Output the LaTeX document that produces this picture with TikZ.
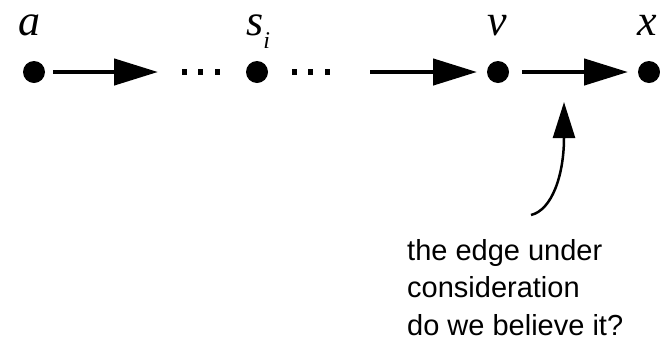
\documentclass[tikz,border=0pt]{standalone}
\usepackage{fontspec}
\setmainfont{Liberation Sans}
\newfontfamily\labelfont{Liberation Serif}
\usetikzlibrary{arrows.meta}

\begin{document}
\begin{tikzpicture}[x=1pt, y=-1pt,
  vertex/.style={circle, fill=black, inner sep=0pt, outer sep=0pt, minimum size=22pt},
  vlabel/.style={anchor=base, inner sep=0pt, font=\fontsize{44}{44}\selectfont\labelfont\itshape},
  edge/.style={line width=4.5pt, -{Triangle[length=44pt, width=26pt]}},
  pointer/.style={line width=2.5pt, -{Triangle[length=36pt, width=22pt]}},
  note/.style={anchor=north west, inner sep=0pt, align=left, font=\fontsize{29}{37.5}\selectfont}
]
  \useasboundingbox (0,0) rectangle (660,341);
  % vertices of the path
  \node[vertex] (a) at (34,72) {};
  \node[vertex] (si) at (257,72) {};
  \node[vertex] (v) at (498,72) {};
  \node[vertex] (x) at (649,72) {};
  \node[vlabel] (la) at (29,35) {a};
  \node[vlabel, anchor=base west] (lsi) at (246,35) {s\raisebox{-13pt}{\fontsize{24}{24}\selectfont i}};
  \node[vlabel] (lv) at (497,35) {v};
  \node[vlabel] (lx) at (647,35) {x};
  % elided parts of the path
  \foreach \px in {184.5, 200.5, 217.5, 294.5, 310.5, 327.5}
    \fill (\px-2.75,69.25) rectangle ++(5.5,5.5);
  \coordinate (tip1) at (158,72);
  \coordinate (tail2) at (370,72);
  % edges
  \draw[edge, shorten <=8pt] (a) -- (tip1);
  \draw[edge, shorten >=10pt] (tail2) -- (v);
  \draw[edge, shorten <=13pt, shorten >=10pt] (v) -- (x);
  % remark on the last edge
  \node[note] (remark) at (407,239) {the edge under\\consideration\\do we believe it?};
  \coordinate (tail) at (531,215);
  \coordinate (aim) at (564,102);
  \draw[pointer] (tail) .. controls (552,210) and (564,175) .. (aim);
\end{tikzpicture}
\end{document}
